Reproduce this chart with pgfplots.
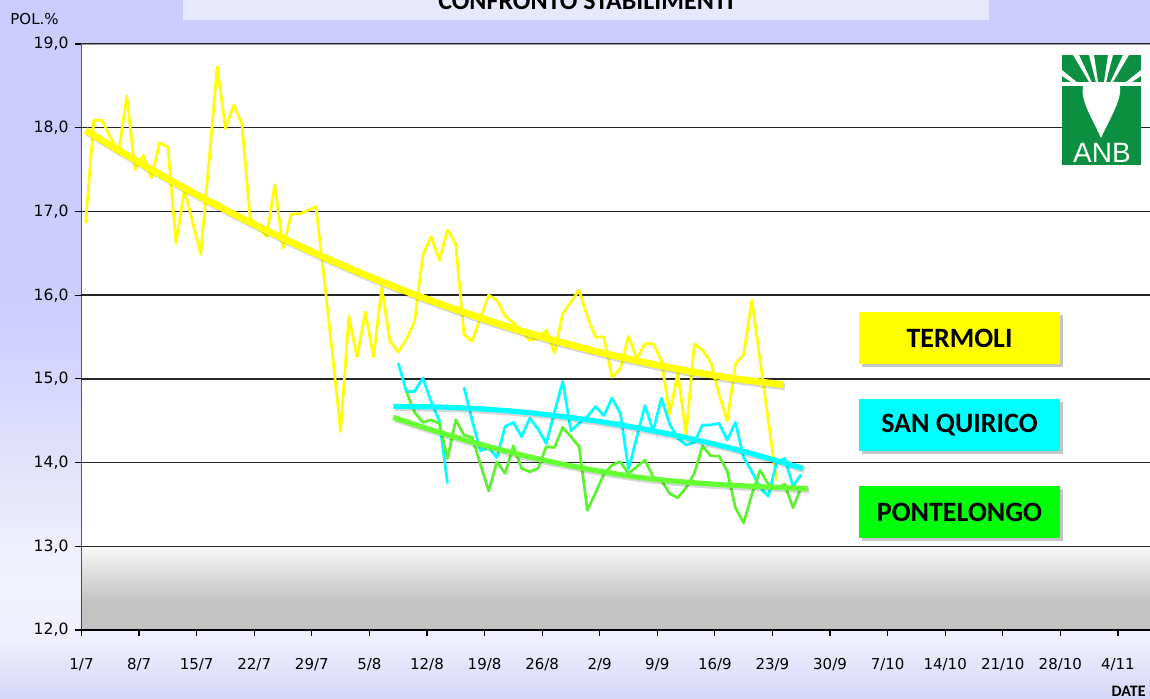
\documentclass[border=0pt]{standalone}
\usepackage{pgfplots}
\pgfplotsset{compat=1.18}
\usepackage{pgfplotstable}
\usepackage{fontspec}
\usetikzlibrary{shadows}
\newfontfamily\tickfont{DejaVu Sans}
\newfontfamily\calib{Carlito}
\newfontfamily\arialf{Liberation Sans}

\definecolor{bgA}{HTML}{D6D6F8}
\definecolor{bgB}{HTML}{EEEEFF}
\definecolor{bgC}{HTML}{F4F4FF}
\definecolor{bgD}{HTML}{E6E6FC}
\definecolor{bgE}{HTML}{D2D2FD}
\definecolor{bgF}{HTML}{CCCCFF}
\definecolor{gA}{HTML}{C3C3C3}
\definecolor{gB}{HTML}{F8F8F8}
\definecolor{titlebox}{HTML}{E8E8FC}
\definecolor{yel}{HTML}{FFFF00}
\definecolor{cya}{HTML}{00FFFF}
\definecolor{grn}{HTML}{5CF22F}
\definecolor{grnT}{HTML}{66FF33}
\definecolor{boxgreen}{HTML}{00FF0A}
\definecolor{anbgreen}{HTML}{0A9040}

\pgfdeclareverticalshading{bgshade}{100bp}{color(0bp)=(bgA); color(25bp)=(bgA); color(29bp)=(bgB); color(33bp)=(bgC); color(40bp)=(bgD); color(50bp)=(bgE); color(56bp)=(bgF); color(100bp)=(bgF)}
\pgfdeclareverticalshading{plotbg}{100bp}{color(0bp)=(gA); color(25bp)=(gA); color(27.5bp)=(gA); color(32.1bp)=(gB); color(32.15bp)=(white); color(100bp)=(white)}

\pgfplotstableread{
x y
0.5 16.86
1.5 18.09
2.5 18.09
3.5 17.89
4.5 17.69
5.5 18.38
6.5 17.50
7.5 17.67
8.5 17.40
9.5 17.82
10.5 17.77
11.5 16.62
12.5 17.26
13.5 16.88
14.5 16.49
15.5 17.60
16.5 18.73
17.5 17.99
18.5 18.27
19.5 18.05
20.5 16.92
21.5 16.82
22.5 16.70
23.5 17.32
24.5 16.56
25.5 16.97
26.5 16.97
27.5 17.01
28.5 17.06
29.5 16.20
30.5 15.30
31.5 14.37
32.5 15.75
33.5 15.26
34.5 15.80
35.5 15.26
36.5 16.09
37.5 15.45
38.5 15.32
39.5 15.47
40.5 15.69
41.5 16.48
42.5 16.70
43.5 16.42
44.5 16.78
45.5 16.61
46.5 15.53
47.5 15.45
48.5 15.73
49.5 16.00
50.5 15.94
51.5 15.75
52.5 15.67
53.5 15.57
54.5 15.46
55.5 15.49
56.5 15.58
57.5 15.31
58.5 15.78
59.5 15.92
60.5 16.06
61.5 15.74
62.5 15.50
63.5 15.50
64.5 15.02
65.5 15.12
66.5 15.51
67.5 15.24
68.5 15.42
69.5 15.42
70.5 15.22
71.5 14.58
72.5 15.07
73.5 14.33
74.5 15.42
75.5 15.34
76.5 15.20
77.5 14.82
78.5 14.50
79.5 15.18
80.5 15.29
81.5 15.94
82.5 15.22
83.5 14.50
84.5 13.78
}\termoli

\pgfplotstableread{
x y
38.5 15.19
39.5 14.85
40.5 14.85
41.5 15.01
42.5 14.73
43.5 14.50
44.5 13.75
45.5 nan
46.5 14.90
47.5 14.50
48.5 14.14
49.5 14.18
50.5 14.06
51.5 14.43
52.5 14.48
53.5 14.31
54.5 14.53
55.5 14.40
56.5 14.23
57.5 14.60
58.5 14.97
59.5 14.38
60.5 14.47
61.5 14.55
62.5 14.67
63.5 14.56
64.5 14.77
65.5 14.59
66.5 13.92
67.5 14.30
68.5 14.68
69.5 14.38
70.5 14.77
71.5 14.46
72.5 14.29
73.5 14.21
74.5 14.24
75.5 14.45
76.5 14.45
77.5 14.47
78.5 14.27
79.5 14.48
80.5 14.06
81.5 13.89
82.5 13.70
83.5 13.60
84.5 14.00
85.5 14.05
86.5 13.72
87.5 13.86
}\sanquirico

\pgfplotstableread{
x y
39.5 14.85
40.5 14.60
41.5 14.48
42.5 14.51
43.5 14.47
44.5 14.05
45.5 14.51
46.5 14.33
47.5 14.30
48.5 13.98
49.5 13.66
50.5 14.01
51.5 13.87
52.5 14.20
53.5 13.93
54.5 13.89
55.5 13.93
56.5 14.19
57.5 14.18
58.5 14.42
59.5 14.31
60.5 14.19
61.5 13.43
62.5 13.64
63.5 13.86
64.5 13.97
65.5 14.01
66.5 13.87
67.5 13.95
68.5 14.03
69.5 13.83
70.5 13.79
71.5 13.63
72.5 13.58
73.5 13.70
74.5 13.87
75.5 14.20
76.5 14.08
77.5 14.08
78.5 13.90
79.5 13.46
80.5 13.28
81.5 13.62
82.5 13.91
83.5 13.74
84.5 13.70
85.5 13.74
86.5 13.46
87.5 13.71
}\pontelongo

\pgfplotstableread{
x y
0.5 17.969
5 17.702
10 17.418
15 17.149
20 16.895
25 16.656
30 16.431
35 16.221
40 16.026
45 15.846
50 15.680
55 15.529
60 15.393
65 15.272
70 15.165
75 15.073
80 14.996
85.3 14.93
}\trendT

\pgfplotstableread{
x y
37.9 14.670
43 14.665
48 14.645
53 14.609
58 14.557
63 14.490
68 14.408
73 14.309
78 14.196
83 14.066
87.7 13.930
}\trendS

\pgfplotstableread{
x y
37.9 14.540
43 14.377
48 14.231
53 14.102
58 13.991
63 13.897
68 13.821
73 13.770
78 13.735
83 13.710
88.3 13.690
}\trendP

\begin{document}
\begin{tikzpicture}
\useasboundingbox (0,0) rectangle (575pt,349pt);
\begin{scope}[x=0.5pt,y=-0.5pt,shift={(0pt,349pt)}]
  \shade[shading=bgshade] (0,0) rectangle (1150,698);
\end{scope}

\begin{axis}[
  at={(40.75pt,34pt)}, anchor=south west,
  scale only axis, width=534.25pt, height=293pt,
  xmin=0, xmax=129.9, ymin=12, ymax=19,
  axis background/.style={shade, shading=plotbg},
  axis line style={draw=none},
  xtick={0,7,...,126},
  xticklabels={1/7,8/7,15/7,22/7,29/7,5/8,12/8,19/8,26/8,2/9,9/9,16/9,23/9,30/9,7/10,14/10,21/10,28/10,4/11},
  ytick={12,13,...,19},
  yticklabels={{12,0},{13,0},{14,0},{15,0},{16,0},{17,0},{18,0},{19,0}},
  xtick pos=bottom, ytick pos=left,
  tick align=outside, major tick length=3pt,
  tick style={black, line width=0.6pt},
  ymajorgrids, major grid style={black!85, line width=0.7pt},
  tick label style={font=\tickfont\fontsize{7.5}{9}\selectfont},
  yticklabel style={font=\tickfont\fontsize{7.8}{9}\selectfont},
  xticklabel style={yshift=-7.5pt},
  unbounded coords=jump,
  clip=true,
]
\draw[black, line width=0.8pt] (rel axis cs:0,0) -- (rel axis cs:1,0);
\draw[black, line width=0.8pt] (rel axis cs:0,0) -- (rel axis cs:0,1);
\draw[black!40, line width=1.4pt] (rel axis cs:0,1) -- (rel axis cs:1,1);

\addplot[yel, line width=1.35pt, line join=round] table[x=x,y=y] {\termoli};
\addplot[cya, line width=1.35pt, line join=round] table[x=x,y=y] {\sanquirico};
\addplot[grn, line width=1.35pt, line join=round] table[x=x,y=y] {\pontelongo};

\addplot[yel, line width=3.4pt, smooth,
  preaction={draw=black, draw opacity=0.16, line width=3.4pt, transform canvas={xshift=0.9pt,yshift=-1.1pt}}]
  table[x=x,y=y] {\trendT};
\addplot[cya, line width=2.6pt, smooth,
  preaction={draw=black, draw opacity=0.16, line width=2.6pt, transform canvas={xshift=0.9pt,yshift=-1.1pt}}]
  table[x=x,y=y] {\trendS};
\addplot[grnT, line width=2.6pt, smooth,
  preaction={draw=black, draw opacity=0.16, line width=2.6pt, transform canvas={xshift=0.9pt,yshift=-1.1pt}}]
  table[x=x,y=y] {\trendP};
\end{axis}

\begin{scope}[x=0.5pt,y=-0.5pt,shift={(0pt,349pt)}]
  % title box
  \fill[titlebox] (183,-2) rectangle (989,20);
  \node[anchor=base, inner sep=0pt, font=\calib\bfseries\fontsize{13}{15}\selectfont] at (586,10) {CONFRONTO STABILIMENTI};
  % axis title
  \node[anchor=base west, inner sep=0pt, font=\tickfont\fontsize{7.5}{9}\selectfont] at (10,25) {POL.\%};
  \node[anchor=base east, inner sep=0pt, font=\calib\bfseries\fontsize{8}{9}\selectfont] at (1146,696) {DATE};
  % legend boxes
  \node[fill=yel, minimum width=100.5pt, minimum height=26pt, inner sep=0pt,
        drop shadow={shadow xshift=1.5pt, shadow yshift=-1.5pt, opacity=0.45},
        font=\calib\bfseries\fontsize{14}{16}\selectfont] at (959.5,338) {TERMOLI};
  \node[fill=cya, minimum width=100.5pt, minimum height=26pt, inner sep=0pt,
        drop shadow={shadow xshift=1.5pt, shadow yshift=-1.5pt, opacity=0.45},
        font=\calib\bfseries\fontsize{14}{16}\selectfont] at (959.5,425) {SAN QUIRICO};
  \node[fill=boxgreen, minimum width=100.5pt, minimum height=26pt, inner sep=0pt,
        drop shadow={shadow xshift=1.5pt, shadow yshift=-1.5pt, opacity=0.45},
        font=\calib\bfseries\fontsize{14}{16}\selectfont] at (959.5,512) {PONTELONGO};
  % logo
  \fill[anbgreen] (1062,86) rectangle (1141,165);
  \fill[anbgreen] (1062,55) rectangle (1141,82);
  \begin{scope}
    \clip (1062,55) rectangle (1141,82);
    \fill[white] (1101,102) -- (1073,55) -- (1079,55) -- cycle;
    \fill[white] (1101,102) -- (1089,55) -- (1094,55) -- cycle;
    \fill[white] (1101,102) -- (1108,55) -- (1113,55) -- cycle;
    \fill[white] (1101,102) -- (1123,55) -- (1129,55) -- cycle;
    \fill[white] (1101,102) -- (1062,70) -- (1062,76) -- cycle;
    \fill[white] (1101,102) -- (1141,70) -- (1141,76) -- cycle;
  \end{scope}
  \fill[white] (1083,86) .. controls (1080,100) and (1092,118) .. (1101,138)
               .. controls (1110,118) and (1122,100) .. (1120,86) -- cycle;
  \node[text=white, inner sep=0pt, anchor=base, font=\arialf\fontsize{14}{16}\selectfont] at (1102,162) {ANB};
\end{scope}
\end{tikzpicture}
\end{document}
